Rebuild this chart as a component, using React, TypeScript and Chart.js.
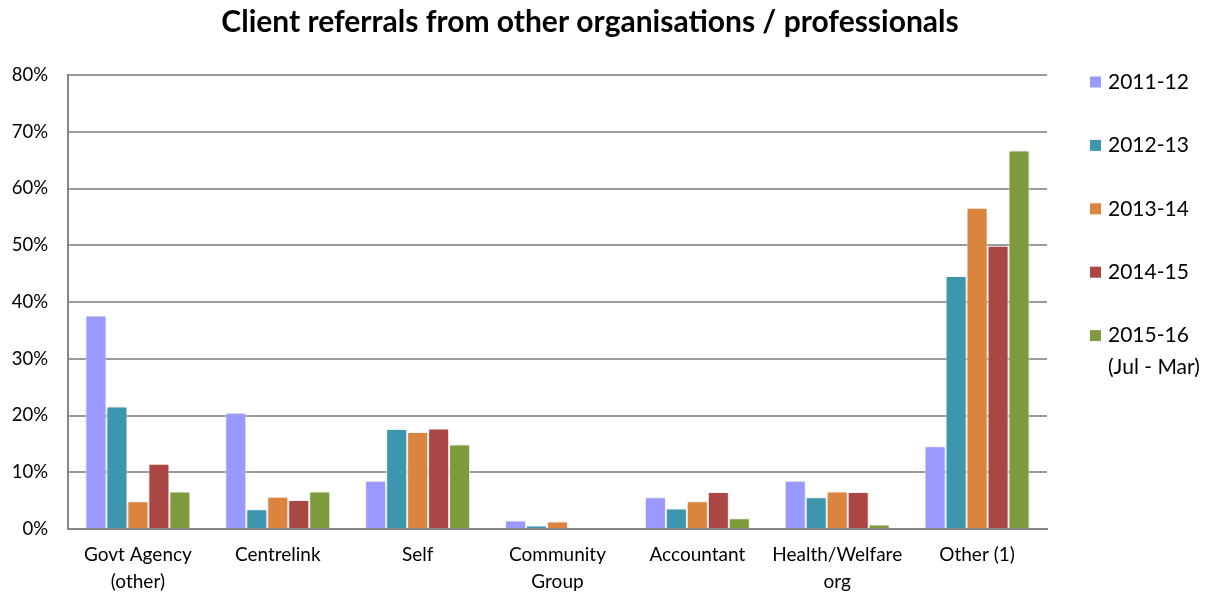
import React, { useEffect, useRef } from "react";
import { Chart, registerables } from "chart.js";

Chart.register(...registerables);

const TITLE = "Client referrals from other organisations / professionals";
const CATEGORIES: (string | string[])[] = [
  ["Govt Agency", "(other)"],
  "Centrelink",
  "Self",
  ["Community", "Group"],
  "Accountant",
  ["Health/Welfare", "org"],
  "Other (1)",
];
const SERIES_LABELS: string[][] = [
  ["2011-12"],
  ["2012-13"],
  ["2013-14"],
  ["2014-15"],
  ["2015-16", "(Jul - Mar)"],
];
const COLORS = ["#9999FF", "#3D96AE", "#DB843D", "#AA4643", "#7D9B3C"];

const S2011 = [37.6, 20.5, 8.5, 1.5, 5.6, 8.5, 14.6];
const S2012 = [21.6, 3.5, 17.6, 0.6, 3.6, 5.6, 44.6];
const S2013 = [4.9, 5.7, 17.1, 1.3, 4.9, 6.6, 56.6];
const S2014 = [11.5, 5.1, 17.7, 0, 6.5, 6.5, 49.9];
const S2015 = [6.6, 6.6, 14.9, 0, 1.9, 0.8, 66.7];
const Y_TICKS = [0, 10, 20, 30, 40, 50, 60, 70, 80];

const FONT = "Lato, 'Open Sans', sans-serif";

export default function App() {
  const ref = useRef<HTMLCanvasElement | null>(null);

  useEffect(() => {
    if (!ref.current) return;
    document.documentElement.style.overflow = "hidden";
    const seriesData = [S2011, S2012, S2013, S2014, S2015];

    const shadowPlugin = {
      id: "barShadow",
      beforeDatasetsDraw(chart: any) {
        const ctx = chart.ctx;
        ctx.save();
        ctx.shadowColor = "rgba(0,0,0,0.2)";
        ctx.shadowBlur = 5;
        ctx.shadowOffsetX = 0;
        ctx.shadowOffsetY = 1;
      },
      afterDatasetsDraw(chart: any) {
        chart.ctx.restore();
      },
    };

    const decorPlugin = {
      id: "decor",
      afterDraw(chart: any) {
        const ctx = chart.ctx;
        ctx.save();
        // title
        ctx.fillStyle = "#000";
        ctx.font = `bold 30px ${FONT}`;
        ctx.textAlign = "center";
        ctx.textBaseline = "middle";
        ctx.fillText(TITLE, 582, 14);
        // legend
        const x0 = 1082;
        const yStart = 74;
        const step = 63.4;
        ctx.textAlign = "left";
        ctx.font = `21px ${FONT}`;
        chart.data.datasets.forEach((ds: any, i: number) => {
          const cy = yStart + i * step;
          ctx.fillStyle = ds.backgroundColor;
          ctx.fillRect(x0, cy - 5.5, 11, 11);
          ctx.fillStyle = "#000";
          const lines: string[] = SERIES_LABELS[i];
          lines.forEach((ln, j) => {
            ctx.fillText(ln, x0 + 18, cy + j * 32);
          });
        });
        ctx.restore();
      },
    };

    const chart = new Chart(ref.current, {
      type: "bar",
      data: {
        labels: CATEGORIES,
        datasets: seriesData.map((d, i) => ({
          label: SERIES_LABELS[i].join(" "),
          data: d,
          backgroundColor: COLORS[i],
          borderColor: "rgba(255,255,255,0.95)",
          borderWidth: 1,
          categoryPercentage: 0.75,
          barPercentage: 1,
        })),
      },
      options: {
        responsive: true,
        maintainAspectRatio: false,
        animation: false,
        layout: { padding: { top: 67, right: 169, left: 0, bottom: 0 } },
        plugins: {
          legend: { display: false },
          title: { display: false },
          tooltip: { enabled: false },
        },
        scales: {
          x: {
            grid: { display: false, drawTicks: false },
            border: { display: true, color: "#868686", width: 2 },
            ticks: {
              color: "#000",
              font: { family: FONT, size: 19, lineHeight: 1.4 },
              padding: 13,
              maxRotation: 0,
              autoSkip: false,
            },
            afterFit: (s: any) => {
              s.height = 66;
            },
          },
          y: {
            min: 0,
            max: 80,
            afterBuildTicks: (s: any) => {
              s.ticks = Y_TICKS.map((v) => ({ value: v }));
            },
            grid: { color: "#9a9a9a", lineWidth: 2, drawTicks: false },
            border: { display: true, color: "#868686", width: 2 },
            ticks: {
              color: "#000",
              font: { family: FONT, size: 18.5 },
              padding: 20,
              callback: (v: any) => `${v}%`,
            },
            afterFit: (s: any) => {
              s.width = 60;
            },
          },
        },
      },
      plugins: [shadowPlugin, decorPlugin],
    });
    return () => chart.destroy();
  }, []);

  return (
    <div style={{ width: 1208, height: 587, position: "relative" }}>
      <canvas ref={ref} />
    </div>
  );
}
